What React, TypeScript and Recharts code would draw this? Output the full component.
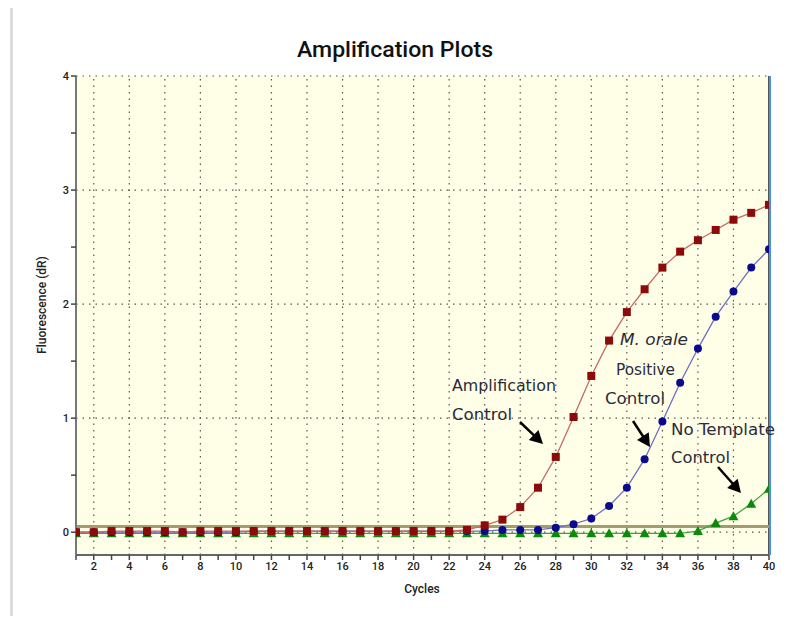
import React from "react";
import { ComposedChart, Line, XAxis, YAxis, ReferenceLine, ReferenceArea } from "recharts";

const cycles = Array.from({ length: 40 }, (_, i) => i + 1);
const amplificationControl = [0.0, 0.0, 0.01, 0.01, 0.01, 0.01, 0.0, 0.01, 0.01, 0.01, 0.01, 0.01, 0.01, 0.01, 0.01, 0.01, 0.01, 0.01, 0.01, 0.01, 0.01, 0.01, 0.02, 0.06, 0.11, 0.22, 0.39, 0.66, 1.01, 1.37, 1.68, 1.93, 2.13, 2.32, 2.46, 2.56, 2.65, 2.74, 2.8, 2.87];
const positiveControl = [0.0, 0.0, 0.0, 0.0, 0.0, 0.0, 0.0, 0.0, 0.0, 0.0, 0.01, 0.01, 0.01, 0.01, 0.01, 0.01, 0.01, 0.01, 0.01, 0.01, 0.01, 0.01, 0.01, 0.01, 0.02, 0.02, 0.02, 0.04, 0.07, 0.12, 0.23, 0.39, 0.64, 0.97, 1.31, 1.61, 1.89, 2.11, 2.32, 2.48];
const noTemplateControl = [-0.01, -0.01, -0.01, -0.01, -0.01, -0.01, -0.01, -0.01, -0.01, -0.01, -0.01, -0.01, -0.01, -0.01, -0.01, -0.01, -0.01, -0.01, -0.01, -0.01, -0.01, -0.01, -0.01, -0.01, -0.01, -0.01, -0.01, -0.01, -0.01, -0.01, -0.01, -0.01, -0.01, -0.01, -0.01, 0.01, 0.08, 0.14, 0.25, 0.38];
const threshold = 0.05;
const xGridValues = [2, 4, 6, 8, 10, 12, 14, 16, 18, 20, 22, 24, 26, 28, 30, 32, 34, 36, 38, 40];
const yGridValues = [0, 1, 2, 3, 4];
const yTicks = [0, 0.5, 1, 1.5, 2, 2.5, 3, 3.5, 4];

const data = cycles.map((c, i) => ({
  cycle: c,
  amp: amplificationControl[i],
  pos: positiveControl[i],
  ntc: noTemplateControl[i],
}));

const SquareDot = (props: any) => {
  const { cx, cy } = props;
  if (cx == null || cy == null) return null;
  return <rect x={cx - 4} y={cy - 4} width={8} height={8} fill="#8b0a0a" />;
};
const CircleDot = (props: any) => {
  const { cx, cy } = props;
  if (cx == null || cy == null) return null;
  return <circle cx={cx} cy={cy} r={4} fill="#0a0a8c" />;
};
const TriDot = (props: any) => {
  const { cx, cy } = props;
  if (cx == null || cy == null) return null;
  return <polygon points={`${cx},${cy - 5} ${cx - 5},${cy + 4} ${cx + 5},${cy + 4}`} fill="#0a8a0a" />;
};

const Arrow = ({ x1, y1, x2, y2 }: { x1: number; y1: number; x2: number; y2: number }) => {
  const dx = x2 - x1, dy = y2 - y1;
  const len = Math.sqrt(dx * dx + dy * dy);
  const ux = dx / len, uy = dy / len;
  const hl = 13, hw = 7;
  const bx = x2 - ux * hl, by = y2 - uy * hl;
  return (
    <g>
      <line x1={x1} y1={y1} x2={bx + ux * 2} y2={by + uy * 2} stroke="#000" strokeWidth={2.5} />
      <polygon points={`${x2},${y2} ${bx - uy * hw},${by + ux * hw} ${bx + uy * hw},${by - ux * hw}`} fill="#000" />
    </g>
  );
};

const annFont = "'DejaVu Sans', sans-serif";

export default function App() {
  const tickStyle = { fontSize: 11, fill: "#222", fontFamily: "Roboto, sans-serif", fontWeight: 500 };
  return (
    <div style={{ position: "relative", margin: -8, width: 796, height: 624, background: "#fff", overflow: "hidden" }}>
      <div style={{ position: "absolute", left: 10, top: 4, width: 900, height: 700, borderTop: "3px solid #dcdcdc", borderLeft: "3px solid #dcdcdc" }} />
      <div style={{ position: "absolute", left: 0, top: 0 }}>
        <ComposedChart width={796} height={624} data={data} margin={{ top: 76, right: 27, bottom: 39, left: 46 }}>
          <XAxis
            type="number"
            dataKey="cycle"
            domain={[1, 40]}
            ticks={cycles}
            interval={0}
            allowDataOverflow
            tickFormatter={(v: number) => (v % 2 === 0 ? String(v) : "")}
            tick={tickStyle}
            tickSize={5}
            tickLine={{ stroke: "#444", strokeWidth: 1.5 }}
            axisLine={{ stroke: "#666", strokeWidth: 2 }}
            height={30}
          />
          <YAxis
            type="number"
            domain={[-0.2, 4]}
            ticks={yTicks}
            interval={0}
            allowDataOverflow
            tickFormatter={(v: number) => (Number.isInteger(v) ? String(v) : "")}
            tick={tickStyle}
            tickSize={5}
            tickLine={{ stroke: "#444", strokeWidth: 1.5 }}
            axisLine={{ stroke: "#777", strokeWidth: 2 }}
            width={30}
          />
          <ReferenceArea x1={1} x2={40} y1={-0.2} y2={4} fill="#fffee6" fillOpacity={1} stroke="none" />
          {xGridValues.map((v) => (
            <ReferenceLine key={"gx" + v} x={v} stroke="#555" strokeWidth={1.2} strokeDasharray="1.5 5" />
          ))}
          {yGridValues.map((v) => (
            <ReferenceLine key={"gy" + v} y={v} stroke="#555" strokeWidth={1.2} strokeDasharray="1.5 5" />
          ))}
          <ReferenceLine x={40} stroke="#555" strokeWidth={2} />
          <ReferenceLine y={threshold} stroke="#a39d6e" strokeWidth={3} />
          <Line type="linear" dataKey="ntc" stroke="#3fa43f" strokeWidth={1.3} dot={<TriDot />} isAnimationActive={false} />
          <Line type="linear" dataKey="pos" stroke="#6f6fc4" strokeWidth={1.3} dot={<CircleDot />} isAnimationActive={false} />
          <Line type="linear" dataKey="amp" stroke="#c46a6a" strokeWidth={1.3} dot={<SquareDot />} isAnimationActive={false} />
        </ComposedChart>
      </div>
      <svg width={796} height={624} style={{ position: "absolute", left: 0, top: 0, pointerEvents: "none" }}>
        <line x1={770} y1={76} x2={770} y2={555} stroke="#4a90e2" strokeWidth={2} />
        <text x={395} y={57} textAnchor="middle" fontFamily="Roboto, sans-serif" fontWeight={500} fontSize={22} fill="#111" textLength={196} lengthAdjust="spacingAndGlyphs">Amplification Plots</text>
        <text x={422} y={593} textAnchor="middle" fontFamily="Roboto, sans-serif" fontWeight={500} fontSize={12} fill="#222">Cycles</text>
        <text x={0} y={0} transform="translate(46,305) rotate(-90)" textAnchor="middle" fontFamily="Roboto, sans-serif" fontWeight={500} fontSize={12} fill="#222">Fluorescence (dR)</text>
        <g fontFamily={annFont} fontSize={16} fill="#2b2b3b">
          <text x={452} y={391} textLength={104} lengthAdjust="spacingAndGlyphs">Amplification</text>
          <text x={452} y={420} textLength={60} lengthAdjust="spacingAndGlyphs">Control</text>
          <text x={620} y={345} textLength={68} lengthAdjust="spacingAndGlyphs" fontStyle="italic">M. orale</text>
          <text x={616} y={375} textLength={59} lengthAdjust="spacingAndGlyphs">Positive</text>
          <text x={605} y={404} textLength={60} lengthAdjust="spacingAndGlyphs">Control</text>
          <text x={671} y={435} textLength={104} lengthAdjust="spacingAndGlyphs">No Template</text>
          <text x={671} y={463} textLength={59} lengthAdjust="spacingAndGlyphs">Control</text>
        </g>
        <Arrow x1={520} y1={422} x2={543} y2={444} />
        <Arrow x1={633} y1={421} x2={650} y2={447} />
        <Arrow x1={718} y1={467} x2={741} y2={493} />
      </svg>
    </div>
  );
}
